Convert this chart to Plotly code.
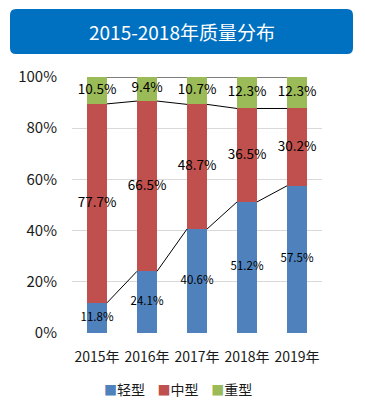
import plotly.graph_objects as go

years = ["2015年", "2016年", "2017年", "2018年", "2019年"]
light = [11.8, 24.1, 40.6, 51.2, 57.5]
medium = [77.7, 66.5, 48.7, 36.5, 30.2]
heavy = [10.5, 9.4, 10.7, 12.3, 12.3]
series_names = ["轻型", "中型", "重型"]
colors = ["#4F81BD", "#C0504D", "#9BBB59"]
title_text = "2015-2018年质量分布"

FONT = "Noto Sans CJK SC, Noto Sans, sans-serif"
x = list(range(len(years)))
bw = 0.4

fig = go.Figure()
for name, vals, col in zip(series_names, [light, medium, heavy], colors):
    fig.add_trace(go.Bar(x=x, y=vals, name=name, marker=dict(color=col, line=dict(width=0)),
                         width=bw, hoverinfo="skip", showlegend=False))

# cumulative tops
cum1 = light
cum2 = [a + b for a, b in zip(light, medium)]
cum3 = [a + b + c for a, b, c in zip(light, medium, heavy)]

# series lines between bars
for tops in [cum1, cum2, cum3]:
    lx, ly = [], []
    for i in range(len(x) - 1):
        lx += [x[i] + bw / 2, x[i + 1] - bw / 2, None]
        ly += [tops[i], tops[i + 1], None]
    fig.add_trace(go.Scatter(x=lx, y=ly, mode="lines", line=dict(color="#000000", width=1),
                             showlegend=False, hoverinfo="skip"))

# data labels
fig.add_trace(go.Scatter(x=x, y=[v / 2 for v in light], mode="text",
                         text=[f"{v:.1f}%" for v in light],
                         textfont=dict(size=11.5, color="#000000", family=FONT),
                         showlegend=False, hoverinfo="skip"))
fig.add_trace(go.Scatter(x=x, y=[a + b / 2 for a, b in zip(light, medium)], mode="text",
                         text=[f"{v:.1f}%" for v in medium],
                         textfont=dict(size=13.5, color="#000000", family=FONT),
                         showlegend=False, hoverinfo="skip"))
fig.add_trace(go.Scatter(x=x, y=[a + c / 2 for a, c in zip(cum2, heavy)], mode="text",
                         text=[f"{v:.1f}%" for v in heavy],
                         textfont=dict(size=13.5, color="#000000", family=FONT),
                         showlegend=False, hoverinfo="skip"))

W, H = 365, 414
ml, mr, mt, mb = 72, 43, 77, 81
pw, ph = W - ml - mr, H - mt - mb

def px2paper(px, py):
    return (px - ml) / pw, (H - mb - py) / ph

x0, y0 = px2paper(10, 54)
x1, y1 = px2paper(353, 9)
rx, ry = 6 / pw, 6 / ph
path = (f"M {x0+rx},{y0} L {x1-rx},{y0} Q {x1},{y0} {x1},{y0+ry} L {x1},{y1-ry} "
        f"Q {x1},{y1} {x1-rx},{y1} L {x0+rx},{y1} Q {x0},{y1} {x0},{y1-ry} "
        f"L {x0},{y0+ry} Q {x0},{y0} {x0+rx},{y0} Z")
fig.add_shape(type="path", path=path, xref="paper", yref="paper",
              fillcolor="#0070C0", line=dict(width=0), layer="above")
tx, ty = px2paper(181.5, 31.5)
fig.add_annotation(x=tx, y=ty, xref="paper", yref="paper", text=title_text, showarrow=False,
                   font=dict(size=19, color="#FFFFFF", family=FONT), xanchor="center", yanchor="middle")

# legend (manual, compact like the reference)
legend_text = "&nbsp;&nbsp;&nbsp;&nbsp;".join(
    f"<span style='color:{c};font-size:13px'>■</span>{n}" for n, c in zip(series_names, colors))
lx_, ly_ = px2paper(178, 389)
fig.add_annotation(x=lx_, y=ly_, xref="paper", yref="paper", text=legend_text, showarrow=False,
                   font=dict(size=14, color="#1a1a1a", family=FONT), xanchor="center", yanchor="middle")

fig.update_layout(
    width=W, height=H, barmode="stack",
    margin=dict(l=ml, r=mr, t=mt, b=mb, autoexpand=False),
    paper_bgcolor="#FFFFFF", plot_bgcolor="#FFFFFF",
    font=dict(family=FONT, size=14, color="#1a1a1a"),
    showlegend=False,
    xaxis=dict(range=[-0.5, 4.5], tickmode="array", tickvals=x, ticktext=years,
               showgrid=False, zeroline=False, showline=False, ticks="", ticklabelstandoff=14,
               tickfont=dict(size=14, family=FONT, color="#1a1a1a"), fixedrange=True),
    yaxis=dict(range=[0, 100], tickmode="array", tickvals=[0, 20, 40, 60, 80, 100],
               ticktext=["0%", "20%", "40%", "60%", "80%", "100%"],
               showgrid=True, gridcolor="#D9D9D9", gridwidth=1, zeroline=False,
               showline=False, ticks="", ticklabelstandoff=14,
               tickfont=dict(size=15, family=FONT, color="#1a1a1a"), fixedrange=True),
)

fig.write_html("out.html", post_script="document.body.style.margin='0';",
               config={"displayModeBar": False, "staticPlot": True})
